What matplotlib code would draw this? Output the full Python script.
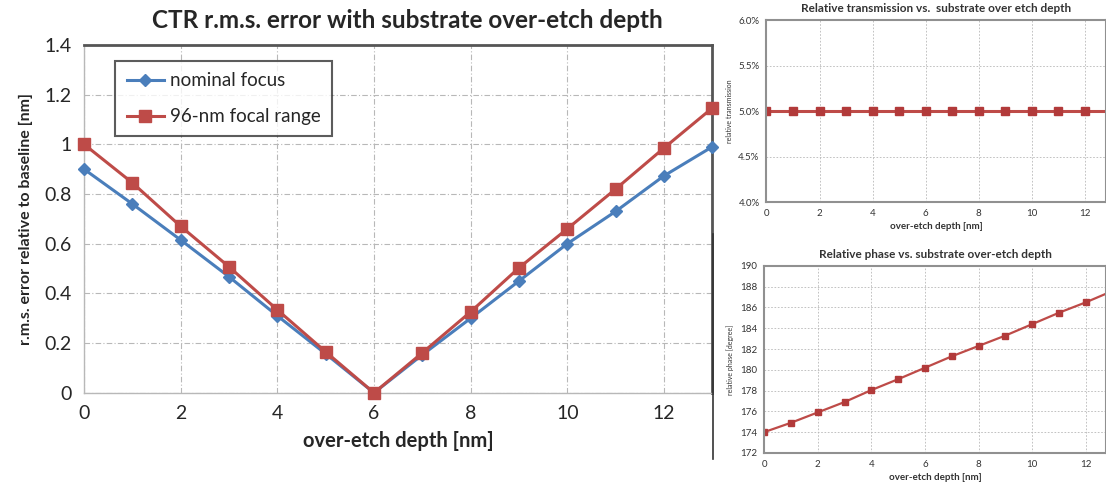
import matplotlib
matplotlib.use("Agg")
import matplotlib.pyplot as plt
from matplotlib.ticker import FuncFormatter, MultipleLocator
from matplotlib.lines import Line2D

plt.rcParams['font.family'] = ['Lato', 'DejaVu Sans']

# ---- data ----
depth = list(range(0, 14))
nominal_focus = [0.90, 0.76, 0.615, 0.467, 0.31, 0.157, 0.0, 0.153, 0.30, 0.45, 0.60, 0.73, 0.873, 0.99]
focal_range_96 = [1.0, 0.845, 0.67, 0.507, 0.334, 0.165, 0.0, 0.161, 0.326, 0.503, 0.66, 0.82, 0.985, 1.146]
rel_transmission = [5.0] * 14
rel_phase = [174.0, 174.9, 175.9, 176.9, 178.05, 179.1, 180.2, 181.3, 182.3, 183.3, 184.4, 185.5, 186.5, 187.6]

main_title = "CTR r.m.s. error with substrate over-etch depth"
main_ylabel = "r.m.s. error relative to baseline [nm]"
xlabel = "over-etch depth [nm]"
legend_labels = ["nominal focus", "96-nm focal range"]
tr_title = "Relative transmission vs.  substrate over etch depth"
tr_ylabel = "relative transmission"
ph_title = "Relative phase vs. substrate over-etch depth"
ph_ylabel = "relative phase [degree]"

BLUE = "#4a7ebb"
RED = "#be4b48"
GRID = "#b8b8b8"
TXT = "#262626"

fig = plt.figure(figsize=(11.06, 4.88), dpi=100)
fig.patch.set_facecolor("white")

# ---- main chart ----
ax = fig.add_axes([0.076, 0.195, 0.568, 0.713])
ax.plot(depth, nominal_focus, color=BLUE, lw=2.2, marker="D", ms=6, mfc=BLUE, mec=BLUE,
        label=legend_labels[0], clip_on=False, zorder=3)
ax.plot(depth, focal_range_96, color=RED, lw=2.2, marker="s", ms=8, mfc=RED, mec=RED,
        label=legend_labels[1], clip_on=False, zorder=3)
ax.set_xlim(0, 13)
ax.set_ylim(0, 1.4)
ax.xaxis.set_major_locator(MultipleLocator(2))
ax.yaxis.set_major_locator(MultipleLocator(0.2))
ax.yaxis.set_major_formatter(FuncFormatter(lambda v, p: "%g" % round(v, 2)))
ax.grid(True, color=GRID, ls=(0, (5, 2, 1, 2)), lw=0.8)
for s in ["left", "bottom"]:
    ax.spines[s].set_color("#b8b8b8")
    ax.spines[s].set_linewidth(1.0)
for s in ["top", "right"]:
    ax.spines[s].set_color("#555555")
    ax.spines[s].set_linewidth(2.0)
ax.tick_params(axis="both", labelsize=14, length=0, pad=9, colors=TXT)
ax.set_title(main_title, fontsize=17.5, fontweight="bold", pad=12, color=TXT, x=0.515)
ax.set_ylabel(main_ylabel, fontsize=11.5, fontweight="bold", color=TXT, labelpad=8)
ax.set_xlabel(xlabel, fontsize=14.5, fontweight="bold", color=TXT, labelpad=6)
leg = ax.legend(loc="upper left", bbox_to_anchor=(0.035, 0.98), fontsize=13.5,
                frameon=True, fancybox=False, handlelength=2.0, handletextpad=0.3,
                labelspacing=1.0, borderpad=0.6)
leg.get_frame().set_edgecolor("#333333")
leg.get_frame().set_linewidth(1.5)
for t in leg.get_texts():
    t.set_color(TXT)

# ---- top-right: relative transmission ----
ax2 = fig.add_axes([0.693, 0.586, 0.307, 0.373])
ax2.plot(depth, rel_transmission, color=RED, lw=2.2, marker="s", ms=6, mfc="#b23a3a", mec="#b23a3a",
         clip_on=True)
ax2.set_xlim(0, 12.79)
ax2.set_ylim(4.0, 6.0)
ax2.xaxis.set_major_locator(MultipleLocator(2))
ax2.yaxis.set_major_locator(MultipleLocator(0.5))
ax2.yaxis.set_major_formatter(FuncFormatter(lambda v, p: "%.1f%%" % v))
ax2.grid(True, color=GRID, ls=(0, (2, 2)), lw=0.6)
for s in ax2.spines.values():
    s.set_color("#909090")
    s.set_linewidth(1.5)
ax2.tick_params(axis="both", labelsize=7, length=0, pad=5, colors="#333333")
ax2.set_title(tr_title, fontsize=8.5, fontweight="bold", pad=6, color="#333333")
ax2.set_ylabel(tr_ylabel, fontsize=5, color="#333333")
ax2.set_xlabel(xlabel, fontsize=7, fontweight="bold", color="#333333", labelpad=3)

# ---- bottom-right: relative phase ----
ax3 = fig.add_axes([0.691, 0.072, 0.309, 0.383])
ax3.plot(depth, rel_phase, color=RED, lw=1.6, marker="s", ms=5, mfc="#b23a3a", mec="#b23a3a",
         clip_on=True)
ax3.set_xlim(0, 12.75)
ax3.set_ylim(172, 190)
ax3.xaxis.set_major_locator(MultipleLocator(2))
ax3.yaxis.set_major_locator(MultipleLocator(2))
ax3.grid(True, color=GRID, ls=(0, (2, 2)), lw=0.6)
for s in ax3.spines.values():
    s.set_color("#909090")
    s.set_linewidth(1.5)
ax3.tick_params(axis="both", labelsize=7, length=0, pad=5, colors="#333333")
ax3.set_title(ph_title, fontsize=8.5, fontweight="bold", pad=6, color="#333333")
ax3.set_ylabel(ph_ylabel, fontsize=5, color="#333333")
ax3.set_xlabel(xlabel, fontsize=7, fontweight="bold", color="#333333", labelpad=3)

# divider line at the left of the lower-right panel
fig.add_artist(Line2D([0.645, 0.645], [0.06, 0.52], transform=fig.transFigure,
                      color="#333333", lw=1.2))

fig.savefig("out.png", dpi=100)
